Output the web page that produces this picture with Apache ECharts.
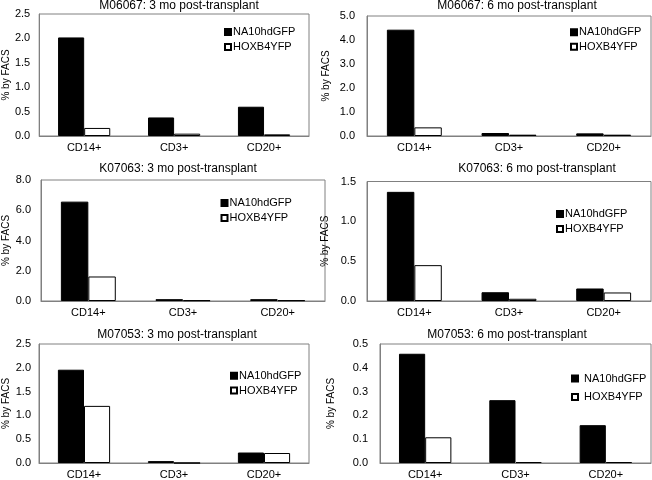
<!DOCTYPE html>
<html>
<head>
<meta charset="utf-8">
<script src="https://cdn.jsdelivr.net/npm/echarts@6/dist/echarts.min.js"></script>
<style>
html,body{margin:0;padding:0;background:#fff;}
#chart{width:652px;height:480px;}
</style>
</head>
<body>
<div id="chart"></div>
<script>
// ---- data ----
const categories = ['CD14+', 'CD3+', 'CD20+'];
const seriesNames = ['NA10hdGFP', 'HOXB4YFP'];
const panelTitles = [
  'M06067: 3 mo post-transplant',
  'M06067: 6 mo post-transplant',
  'K07063: 3 mo post-transplant',
  'K07063: 6 mo post-transplant',
  'M07053: 3 mo post-transplant',
  'M07053: 6 mo post-transplant'
];
const yAxisName = '% by FACS';
const naValues = [
  [2.02, 0.38, 0.60],
  [4.43, 0.125, 0.11],
  [6.57, 0.12, 0.12],
  [1.37, 0.11, 0.157],
  [1.96, 0.04, 0.22],
  [0.459, 0.264, 0.159]
];
const hoxValues = [
  [0.165, 0.048, 0.034],
  [0.36, 0.055, 0.055],
  [1.62, 0.05, 0.05],
  [0.45, 0.028, 0.107],
  [1.20, 0, 0.21],
  [0.108, 0.004, 0.004]
];
const yMax = [2.5, 5, 8, 1.5, 2.5, 0.5];
const yInterval = [0.5, 1, 2, 0.5, 0.5, 0.1];

// ---- layout ----
const FONT = "'Liberation Sans', Arial, sans-serif";
const grids = [
  {left: 38, top: 14, width: 271, height: 122},
  {left: 367, top: 16, width: 284, height: 120},
  {left: 40, top: 180, width: 285, height: 121},
  {left: 367, top: 181.5, width: 284, height: 119.5},
  {left: 38, top: 344, width: 271, height: 122},
  {left: 380, top: 344, width: 271, height: 121}
];
const titlePos = [[179, 6], [517, 6], [178, 169], [537, 169], [177, 335], [507, 335]];
const legendPos = [
  {left: 224, top: 24.5, lh: 15, pad: -3},
  {left: 570, top: 25, lh: 14.5, pad: -3},
  {left: 220.5, top: 195.5, lh: 15, pad: -3},
  {left: 556, top: 206.5, lh: 15, pad: -3},
  {left: 230, top: 368.5, lh: 14.7, pad: -3},
  {left: 571, top: 369.3, lh: 18.4, pad: 1}
];
const nameGaps = [27, 36, 30, 37, 28, 44];
const labelMargins = [9, 12, 10, 11, 8, 12];

const option = {
  animation: false,
  backgroundColor: '#fff',
  textStyle: {fontFamily: FONT},
  grid: [], xAxis: [], yAxis: [], series: [], legend: [], graphic: []
};

grids.forEach((g, i) => {
  option.grid.push(Object.assign({show: true, borderColor: '#808080', borderWidth: 1, backgroundColor: 'transparent', containLabel: false}, g));
  option.xAxis.push({
    type: 'category', gridIndex: i, data: categories,
    axisLine: {lineStyle: {color: '#808080', width: 1}},
    axisTick: {show: false},
    axisLabel: {color: '#000', fontSize: 11, fontFamily: FONT, margin: 6}
  });
  option.yAxis.push({
    type: 'value', gridIndex: i, min: 0, max: yMax[i], interval: yInterval[i],
    name: yAxisName, nameLocation: 'middle', nameRotate: 90, nameGap: nameGaps[i],
    nameTextStyle: {color: '#000', fontSize: 10, fontFamily: FONT},
    axisLine: {show: true, lineStyle: {color: '#808080', width: 1}},
    axisTick: {show: false},
    splitLine: {show: false},
    axisLabel: {color: '#000', fontSize: 11, fontFamily: FONT, margin: labelMargins[i],
      formatter: v => v.toFixed(1)}
  });
  option.series.push({
    type: 'bar', name: seriesNames[0], xAxisIndex: i, yAxisIndex: i, data: naValues[i],
    barGap: '0%', barCategoryGap: '42%',
    itemStyle: {color: '#000', borderColor: '#000', borderWidth: 1}
  });
  option.series.push({
    type: 'bar', name: seriesNames[1], xAxisIndex: i, yAxisIndex: i, data: hoxValues[i],
    barGap: '0%', barCategoryGap: '42%',
    itemStyle: {color: '#fff', borderColor: '#000', borderWidth: 1}
  });
  const lp = legendPos[i];
  option.legend.push({
    data: seriesNames, orient: 'vertical', left: lp.left, top: lp.top,
    icon: 'rect', itemWidth: 6, itemHeight: 6, itemGap: 0, padding: 0,
    selectedMode: false,
    textStyle: {color: '#000', fontSize: 11, fontFamily: FONT, lineHeight: lp.lh, padding: [0, 0, 0, lp.pad]}
  });
  option.graphic.push({
    type: 'text', x: titlePos[i][0], y: titlePos[i][1],
    style: {text: panelTitles[i], fill: '#000', font: '12px ' + FONT, align: 'center', verticalAlign: 'middle'}
  });
});

const chart = echarts.init(document.getElementById('chart'), null, {renderer: 'canvas'});
chart.setOption(option);
</script>
</body>
</html>
